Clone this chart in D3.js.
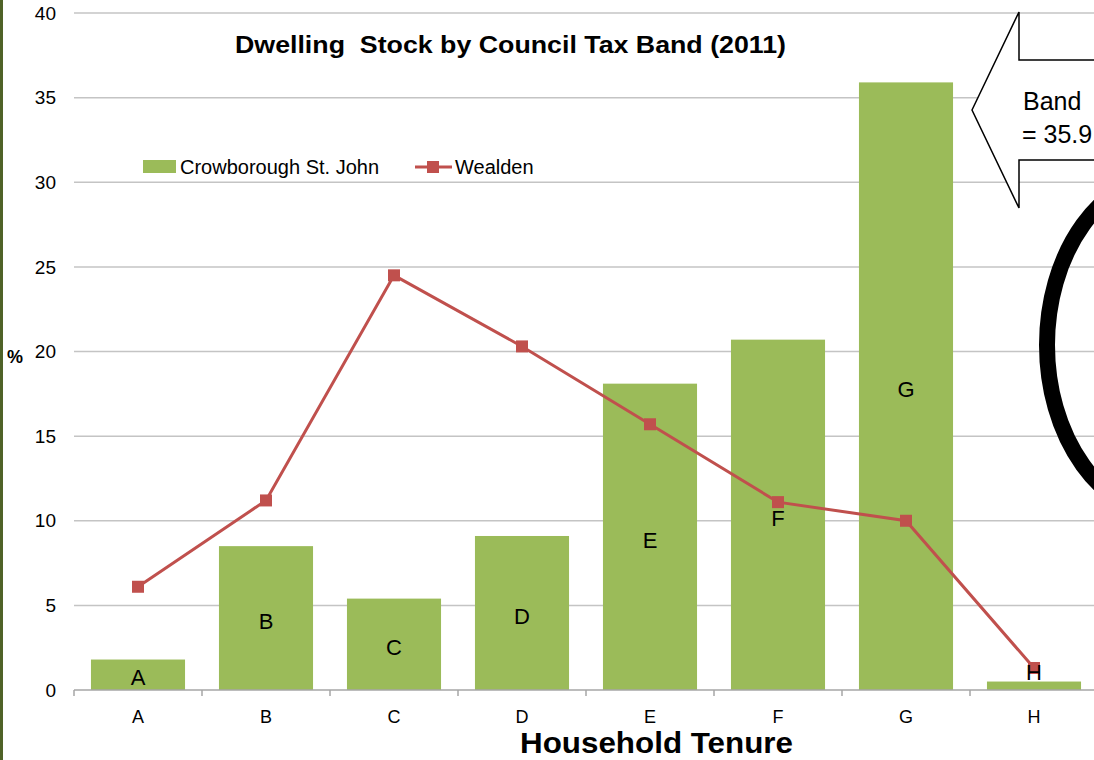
<!DOCTYPE html>
<html lang="en">
<head>
    <meta charset="UTF-8">
    <title>Dwelling Stock by Council Tax Band (2011)</title>
    <script src="https://d3js.org/d3.v7.min.js"></script>
    <style>
        body { margin: 0; background: #fff; }
        text { font-family: "Liberation Sans", Arial, sans-serif; fill: #000; }
    </style>
</head>
<body>
    <div id="chart-container"></div>

    <script>
        // data
        const bands = ["A", "B", "C", "D", "E", "F", "G", "H"];
        const crowborough = [1.8, 8.5, 5.4, 9.1, 18.1, 20.7, 35.9, 0.5];
        const wealden = [6.1, 11.2, 24.5, 20.3, 15.7, 11.1, 10.0, 1.3];
        const yTicks = [0, 5, 10, 15, 20, 25, 30, 35, 40];

        const W = 1094, H = 760;
        const plot = { left: 74, right: 1098, top: 13, bottom: 690 };

        const svg = d3.select("#chart-container")
            .append("svg")
            .attr("width", W)
            .attr("height", H);

        const x = d3.scaleBand()
            .domain(bands)
            .range([plot.left, plot.right])
            .paddingInner(0.265)
            .paddingOuter(0.1325);

        const y = d3.scaleLinear()
            .domain([0, 40])
            .range([plot.bottom, plot.top]);

        // gridlines
        svg.append("g")
            .selectAll("line")
            .data(yTicks.filter(d => d > 0))
            .enter()
            .append("line")
            .attr("x1", plot.left)
            .attr("x2", plot.right)
            .attr("y1", d => y(d))
            .attr("y2", d => y(d))
            .style("stroke", "#c4c4c4")
            .style("stroke-width", "1.5px");

        // y tick labels
        svg.append("g")
            .selectAll("text")
            .data(yTicks)
            .enter()
            .append("text")
            .attr("x", 56)
            .attr("y", d => y(d))
            .attr("dy", "0.35em")
            .attr("text-anchor", "end")
            .style("font-size", "19px")
            .text(d => d);

        svg.append("text")
            .attr("x", 15)
            .attr("y", 357)
            .attr("dy", "0.35em")
            .attr("text-anchor", "middle")
            .style("font-size", "18px")
            .style("font-weight", "bold")
            .text("%");

        // bars
        svg.selectAll(".bar")
            .data(bands)
            .enter()
            .append("rect")
            .attr("class", "bar")
            .attr("x", d => x(d))
            .attr("width", x.bandwidth())
            .attr("y", (d, i) => y(crowborough[i]))
            .attr("height", (d, i) => y(0) - y(crowborough[i]))
            .style("fill", "#9bbb59");

        // x axis
        const step = x.step();
        const xAxis = svg.append("g")
            .attr("transform", `translate(0, ${plot.bottom})`)
            .call(d3.axisBottom(x).tickSize(0).tickPadding(20));
        xAxis.select(".domain")
            .attr("d", `M${plot.left},0H${plot.right}`)
            .style("stroke", "#a6a6a6")
            .style("stroke-width", "1.5px");
        xAxis.selectAll(".tick text")
            .style("font-size", "18px")
            .style("font-family", "Liberation Sans, Arial, sans-serif");
        xAxis.selectAll(".sep")
            .data(d3.range(bands.length))
            .enter()
            .append("line")
            .attr("class", "sep")
            .attr("x1", i => plot.left + i * step)
            .attr("x2", i => plot.left + i * step)
            .attr("y1", 0)
            .attr("y2", 6)
            .style("stroke", "#a6a6a6")
            .style("stroke-width", "1.5px");

        // Wealden line
        const line = d3.line()
            .x((d, i) => x(bands[i]) + x.bandwidth() / 2)
            .y(d => y(d));

        svg.append("path")
            .datum(wealden)
            .attr("d", line)
            .style("fill", "none")
            .style("stroke", "#c0504d")
            .style("stroke-width", "3px");

        svg.selectAll(".marker")
            .data(wealden)
            .enter()
            .append("rect")
            .attr("class", "marker")
            .attr("x", (d, i) => x(bands[i]) + x.bandwidth() / 2 - 6)
            .attr("y", d => y(d) - 6)
            .attr("width", 12)
            .attr("height", 12)
            .style("fill", "#c0504d");

        // labels inside the bars
        svg.selectAll(".barlabel")
            .data(bands)
            .enter()
            .append("text")
            .attr("class", "barlabel")
            .attr("x", d => x(d) + x.bandwidth() / 2)
            .attr("y", (d, i) => {
                const h = y(0) - y(crowborough[i]);
                return h < 25 ? y(crowborough[i]) - 9 : (y(0) + y(crowborough[i])) / 2 + 3;
            })
            .attr("dy", "0.35em")
            .attr("text-anchor", "middle")
            .style("font-size", "22px")
            .text(d => d);

        // title
        svg.append("text")
            .attr("x", 235)
            .attr("y", 53)
            .attr("textLength", 551)
            .attr("lengthAdjust", "spacingAndGlyphs")
            .style("font-size", "23px")
            .style("font-weight", "bold")
            .style("white-space", "pre")
            .text("Dwelling  Stock by Council Tax Band (2011)");

        // axis title
        svg.append("text")
            .attr("x", 520)
            .attr("y", 753)
            .attr("textLength", 273)
            .attr("lengthAdjust", "spacingAndGlyphs")
            .style("font-size", "29px")
            .style("font-weight", "bold")
            .text("Household Tenure");

        // legend
        const legend = svg.append("g");
        legend.append("rect")
            .attr("x", 143).attr("y", 160)
            .attr("width", 33).attr("height", 13)
            .style("fill", "#9bbb59");
        legend.append("text")
            .attr("x", 180).attr("y", 167)
            .attr("dy", "0.35em")
            .style("font-size", "20px")
            .text("Crowborough St. John");
        legend.append("line")
            .attr("x1", 415).attr("x2", 452)
            .attr("y1", 167).attr("y2", 167)
            .style("stroke", "#c0504d")
            .style("stroke-width", "3px");
        legend.append("rect")
            .attr("x", 427).attr("y", 161)
            .attr("width", 12).attr("height", 12)
            .style("fill", "#c0504d");
        legend.append("text")
            .attr("x", 455).attr("y", 167)
            .attr("dy", "0.35em")
            .style("font-size", "20px")
            .text("Wealden");

        // black ring at the right edge
        svg.append("ellipse")
            .attr("cx", 1170)
            .attr("cy", 345)
            .attr("rx", 123)
            .attr("ry", 170)
            .style("fill", "none")
            .style("stroke", "#000")
            .style("stroke-width", "16px");

        // arrow callout
        svg.append("path")
            .attr("d", "M972,110L1019,12V60H1110V160H1019V208Z")
            .style("fill", "#fff")
            .style("stroke", "#000")
            .style("stroke-width", "1.5px");
        svg.append("text")
            .attr("x", 1023).attr("y", 110)
            .style("font-size", "25px")
            .text("Band");
        svg.append("text")
            .attr("x", 1022).attr("y", 143)
            .style("font-size", "25px")
            .text("= 35.9");

        // left border
        svg.append("rect")
            .attr("x", 0).attr("y", 0)
            .attr("width", 3).attr("height", H)
            .style("fill", "#4f6228");
    </script>
</body>
</html>
